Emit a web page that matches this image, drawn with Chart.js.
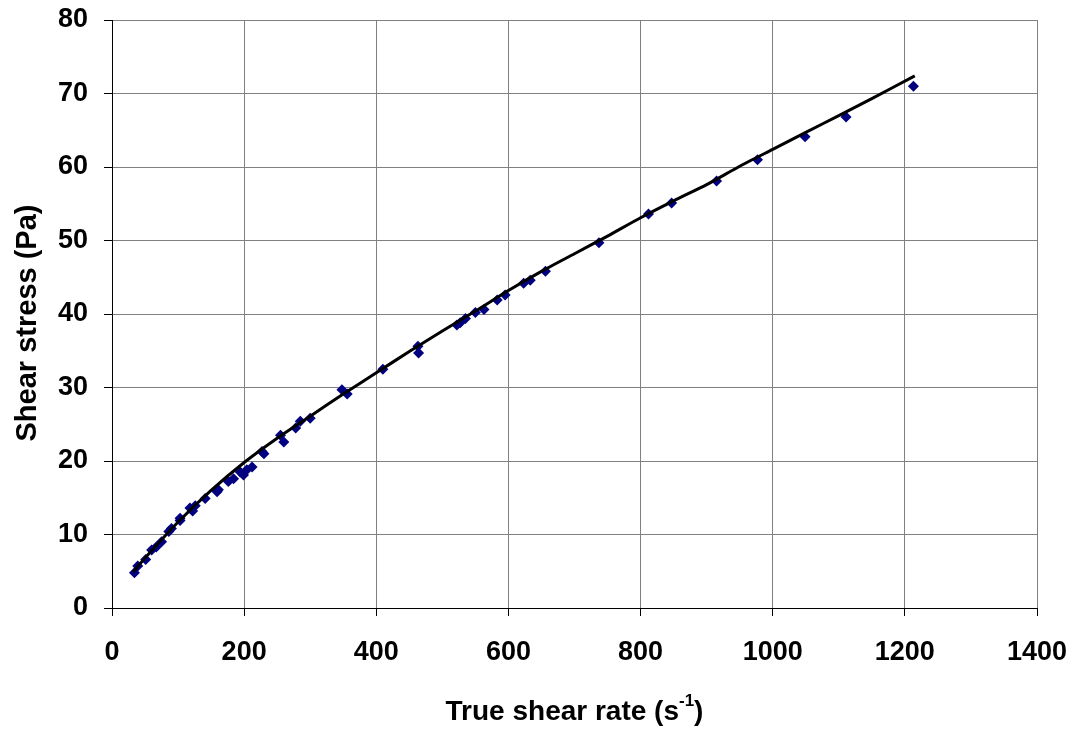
<!DOCTYPE html>
<html>
<head>
<meta charset="utf-8">
<script src="https://cdn.jsdelivr.net/npm/chart.js@4"></script>
<style>
  html, body { margin: 0; padding: 0; background: #fff; }
  #wrap { width: 1074px; height: 730px; }
</style>
</head>
<body>
<div id="wrap"><canvas id="chart" width="1074" height="730"></canvas></div>
<script>
// measured points
const shearRate = [34, 39, 51, 60, 67, 75, 86, 90, 103, 103, 118, 122, 126, 141, 159, 161, 176, 184, 194, 199, 204, 212,
    227, 230, 255, 260, 278, 285, 300, 348, 356, 410, 463, 464, 522, 527, 535, 550, 563, 583, 595, 623, 633, 656,
    737, 812, 847, 915, 977, 1049, 1111, 1213];
const shearStress = [4.8, 5.7, 6.6, 7.9, 8.3, 9.0, 10.4, 10.8, 12.2, 11.9, 13.6, 13.2, 13.9, 14.9, 15.8, 16.1, 17.2, 17.6, 18.5, 18.1, 18.8, 19.2,
    21.3, 21.0, 23.5, 22.6, 24.5, 25.4, 25.8, 29.7, 29.1, 32.5, 35.6, 34.7, 38.5, 38.8, 39.4, 40.2, 40.6, 41.9, 42.6, 44.2, 44.6, 45.8,
    49.7, 53.6, 55.1, 58.1, 61.0, 64.1, 66.8, 71.0];

// fitted curve
const fitRate = [32, 50, 100, 150, 200, 250, 300, 350, 400, 450, 500, 550, 600, 650, 700, 750, 800, 850, 900, 950, 1000, 1050, 1100, 1150, 1215];
const fitStress = [4.9, 6.8, 11.7, 16.0, 19.8, 23.1, 26.1, 29.1, 32.0, 34.9, 37.7, 40.4, 43.2, 45.8, 48.2, 50.6, 53.1, 55.4, 57.6, 60.1, 62.4, 64.7, 67.0, 69.3, 72.4];

const xTicks = [0, 200, 400, 600, 800, 1000, 1200, 1400];
const yTicks = [0, 10, 20, 30, 40, 50, 60, 70, 80];

const FONT = '"Liberation Sans", Arial, sans-serif';

// axis titles drawn by hand so the x one can have a superscript
const axisTitles = {
    id: 'axisTitles',
    afterDraw(chart) {
        const ctx = chart.ctx;
        const area = chart.chartArea;
        ctx.save();
        ctx.fillStyle = '#000';
        ctx.textBaseline = 'middle';

        const main = 'bold 28px ' + FONT;
        const sup = 'bold 17px ' + FONT;
        const a = 'True shear rate (s', b = '-1', c = ')';
        ctx.font = main;
        const wa = ctx.measureText(a).width, wc = ctx.measureText(c).width;
        ctx.font = sup;
        const wb = ctx.measureText(b).width;
        let x = (area.left + area.right) / 2 - (wa + wb + wc) / 2;
        const y = 712;
        ctx.textAlign = 'left';
        ctx.font = main;
        ctx.fillText(a, x, y);
        x += wa;
        ctx.font = sup;
        ctx.fillText(b, x, y - 11);
        x += wb;
        ctx.font = main;
        ctx.fillText(c, x, y);

        ctx.font = 'bold 29px ' + FONT;
        ctx.translate(28, 323);
        ctx.rotate(-Math.PI / 2);
        ctx.textAlign = 'center';
        ctx.fillText('Shear stress (Pa)', 0, 0);
        ctx.restore();
    }
};

new Chart(document.getElementById('chart'), {
    type: 'scatter',
    data: {
        datasets: [{
            label: 'fit',
            data: fitRate.map((r, i) => ({ x: r, y: fitStress[i] })),
            showLine: true,
            borderColor: '#000',
            borderWidth: 3,
            pointRadius: 0,
            tension: 0.2
        }, {
            label: 'data',
            data: shearRate.map((r, i) => ({ x: r, y: shearStress[i] })),
            pointStyle: 'rectRot',
            pointRadius: 5.5,
            backgroundColor: '#000080',
            borderColor: '#000080',
            borderWidth: 0
        }]
    },
    options: {
        responsive: false,
        animation: false,
        layout: { padding: { left: 0, top: 20, right: 37, bottom: 0 } },
        plugins: { legend: { display: false }, tooltip: { enabled: false } },
        scales: {
            x: {
                type: 'linear',
                min: 0,
                max: 1400,
                afterBuildTicks: s => { s.ticks = xTicks.map(v => ({ value: v })); },
                afterFit: s => { s.height = 122; s.paddingLeft = 0; s.paddingRight = 0; },
                ticks: { color: '#000', font: { family: FONT, size: 27, weight: 'bold' }, padding: 20, maxRotation: 0,
                    callback: v => String(v) },
                grid: { color: '#808080', tickColor: '#000', tickLength: 8, lineWidth: 1 },
                border: { color: '#000', width: 1 }
            },
            y: {
                type: 'linear',
                min: 0,
                max: 80,
                afterBuildTicks: s => { s.ticks = yTicks.map(v => ({ value: v })); },
                afterFit: s => { s.width = 112; s.paddingTop = 0; s.paddingBottom = 0; },
                ticks: { color: '#000', font: { family: FONT, size: 27, weight: 'bold' }, padding: 16,
                    callback: v => String(v) },
                grid: { color: '#808080', tickColor: '#000', tickLength: 8, lineWidth: 1 },
                border: { color: '#000', width: 1 }
            }
        }
    },
    plugins: [axisTitles]
});
</script>
</body>
</html>
